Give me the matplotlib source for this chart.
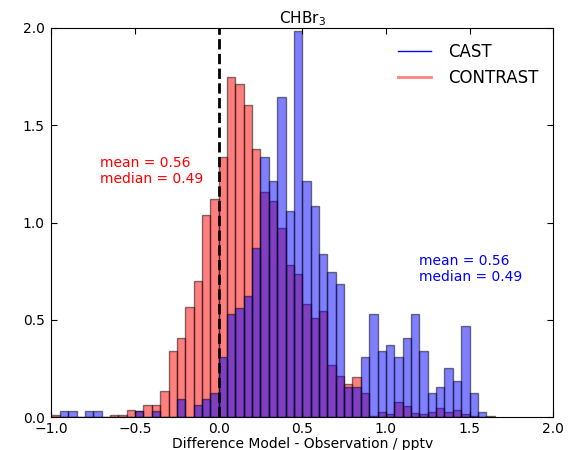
import matplotlib
matplotlib.use('Agg')
import matplotlib.pyplot as plt
import numpy as np
from matplotlib.lines import Line2D

# bin left edges, width 0.05, from -1.0 to 1.6
bin_left = np.round(np.arange(-1.0, 1.62, 0.05), 2)
bin_width = 0.05

contrast = [0.01, 0, 0, 0, 0, 0, 0, 0.01, 0.01, 0.038,
            0.03, 0.062, 0.062, 0.135, 0.339, 0.405, 0.564, 0.698, 1.04, 1.12,
            1.338, 1.747, 1.712, 1.603, 1.377, 1.156, 1.111, 0.971, 0.783, 0.736,
            0.581, 0.509, 0.546, 0.267, 0.212, 0.171, 0.205, 0.123, 0.008, 0.029,
            0.016, 0.079, 0.055, 0.02, 0.015, 0.024, 0.046, 0.024, 0.038, 0.015,
            0.008, 0.0, 0.008]
cast = [0, 0.03, 0.03, 0, 0.03, 0.03, 0, 0, 0, 0,
        0.03, 0, 0.03, 0, 0, 0.092, 0, 0.062, 0.092, 0.123,
        0.308, 0.529, 0.56, 0.623, 0.868, 1.339, 1.211, 1.647, 1.057, 1.986,
        1.211, 1.086, 0.837, 0.747, 0.685, 0.154, 0.154, 0.308, 0.529, 0.342,
        0.372, 0.308, 0.406, 0.529, 0.342, 0.123, 0.154, 0.25, 0.188, 0.467,
        0.123, 0.029, 0]

mean_val = 0.56
median_val = 0.49

fig = plt.figure(figsize=(5.72, 4.5), dpi=100)
ax = fig.add_axes([0.09, 0.073, 0.877, 0.865])

ax.bar(bin_left, contrast, width=bin_width, align='edge', color='r',
       edgecolor='k', alpha=0.5, linewidth=1)
ax.bar(bin_left, cast, width=bin_width, align='edge', color='b',
       edgecolor='k', alpha=0.5, linewidth=1)

ax.axvline(0, color='k', linestyle='--', linewidth=2)

ax.text(-0.71, 1.265, 'mean = %.2f\nmedian = %.2f' % (mean_val, median_val),
        color='r', fontsize=10, va='center', ha='left', linespacing=1.15)
ax.text(1.2, 0.76, 'mean = %.2f\nmedian = %.2f' % (mean_val, median_val),
        color='b', fontsize=10, va='center', ha='left', linespacing=1.15)

handles = [Line2D([], [], color='b', lw=1),
           Line2D([], [], color='r', lw=2, alpha=0.5)]
ax.legend(handles, ['CAST', 'CONTRAST'], loc='upper right', frameon=False,
          fontsize=12, handlelength=2.0, handletextpad=1.0)

ax.set_xlim(-1.0, 2.0)
ax.set_ylim(0, 2.0)
ax.set_xticks([-1.0, -0.5, 0.0, 0.5, 1.0, 1.5, 2.0])
ax.set_yticks([0.0, 0.5, 1.0, 1.5, 2.0])
ax.tick_params(direction='in', top=True, right=True, labelsize=10, length=4)
ax.tick_params(axis='y', pad=5)
ax.set_title('CHBr$_3$', fontsize=11, pad=3)
ax.set_xlabel('Difference Model - Observation / pptv', fontsize=10, labelpad=1)

fig.savefig('out.png', dpi=100)
